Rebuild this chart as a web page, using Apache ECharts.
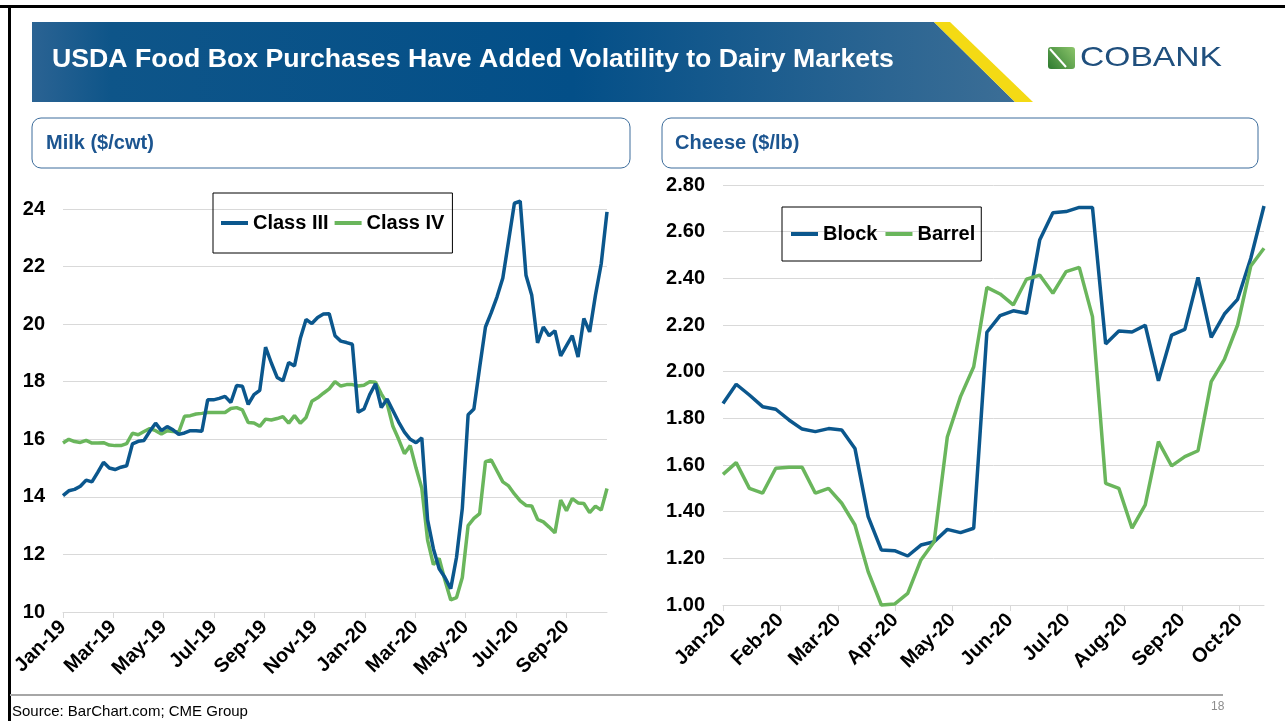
<!DOCTYPE html>
<html>
<head>
<meta charset="utf-8">
<script src="https://cdn.jsdelivr.net/npm/echarts@6/dist/echarts.min.js"></script>
<style>
  html, body { margin: 0; padding: 0; background: #fff; }
  #main { width: 1285px; height: 721px; }
</style>
</head>
<body>
<div id="main"></div>
<script>
// weekly prices
var milkTicks = ['Jan-19', 'Mar-19', 'May-19', 'Jul-19', 'Sep-19', 'Nov-19',
  'Jan-20', 'Mar-20', 'May-20', 'Jul-20', 'Sep-20'];
var classIII = [14.04, 14.21, 14.26, 14.37, 14.58, 14.52, 14.85, 15.2, 15.0, 14.95,
  15.03, 15.08, 15.84, 15.93, 15.96, 16.28, 16.56, 16.30, 16.44, 16.33,
  16.17, 16.22, 16.30, 16.30, 16.28, 17.37, 17.37, 17.42, 17.49, 17.28,
  17.87, 17.84, 17.21, 17.55, 17.70, 19.20, 18.65, 18.15, 18.03, 18.67,
  18.55, 19.50, 20.16, 20.02, 20.23, 20.35, 20.36, 19.60, 19.41, 19.36,
  19.30, 16.94, 17.05, 17.55, 17.93, 17.10, 17.40, 17.0, 16.6, 16.25,
  16.0, 15.88, 16.05, 13.2, 12.2, 11.5, 11.2, 10.81, 11.9, 13.6,
  16.85, 17.05, 18.5, 19.9, 20.4, 20.95, 21.6, 22.9, 24.2, 24.27,
  21.7, 21.0, 19.35, 19.9, 19.6, 19.77, 18.9, 19.25, 19.6, 18.86,
  20.2, 19.73, 21.0, 22.1, 23.9];
var classIV = [15.87, 16.0, 15.92, 15.89, 15.96, 15.87, 15.87, 15.88, 15.80, 15.78,
  15.78, 15.85, 16.21, 16.16, 16.27, 16.37, 16.30, 16.18, 16.30, 16.27,
  16.25, 16.80, 16.82, 16.88, 16.90, 16.93, 16.93, 16.93, 16.93, 17.07,
  17.10, 17.02, 16.58, 16.57, 16.45, 16.70, 16.67, 16.72, 16.79, 16.56,
  16.82, 16.56, 16.76, 17.32, 17.44, 17.60, 17.75, 18.0, 17.85, 17.9,
  17.9, 17.85, 17.88, 18.0, 17.98, 17.58, 17.25, 16.45, 16.0, 15.5,
  15.78, 15.0, 14.3, 12.5, 11.65, 11.86, 11.1, 10.42, 10.5, 11.2,
  13.0, 13.25, 13.42, 15.22, 15.28, 14.9, 14.52, 14.38, 14.1, 13.86,
  13.7, 13.68, 13.22, 13.13, 12.95, 12.75, 13.89, 13.52, 13.94, 13.79,
  13.77, 13.45, 13.68, 13.54, 14.29];

var cheeseTicks = ['Jan-20', 'Feb-20', 'Mar-20', 'Apr-20', 'May-20', 'Jun-20',
  'Jul-20', 'Aug-20', 'Sep-20', 'Oct-20'];
var block = [1.864, 1.946, 1.90, 1.85, 1.839, 1.793, 1.754, 1.743, 1.756, 1.75,
  1.671, 1.379, 1.236, 1.233, 1.21, 1.257, 1.271, 1.324, 1.31, 1.329,
  2.169, 2.24, 2.261, 2.25, 2.564, 2.681, 2.686, 2.704, 2.704, 2.119,
  2.174, 2.17, 2.199, 1.961, 2.157, 2.181, 2.404, 2.147, 2.247, 2.31,
  2.486, 2.71];
var barrel = [1.56, 1.61, 1.50, 1.479, 1.586, 1.59, 1.59, 1.479, 1.50, 1.436,
  1.343, 1.143, 1.0, 1.004, 1.05, 1.193, 1.271, 1.72, 1.893, 2.021,
  2.361, 2.333, 2.286, 2.396, 2.414, 2.336, 2.429, 2.447, 2.236, 1.521,
  1.50, 1.329, 1.429, 1.70, 1.596, 1.636, 1.661, 1.957, 2.053, 2.2,
  2.453, 2.529];

var BLUE = '#0b578d';
var GREEN = '#6ab65c';
var FONT = '"Liberation Sans", Arial, sans-serif';
var WEEK = 7 / 30.4375; // one week measured in months

function weekly(arr) {
  return arr.map(function (v, i) { return [i * WEEK, v]; });
}
function evens(n) { var a = []; for (var i = 0; i < n; i++) a.push(i * 2); return a; }
function steps(n) { var a = []; for (var i = 0; i < n; i++) a.push(i); return a; }

var myChart = echarts.init(document.getElementById('main'));

var axisLbl = { fontFamily: FONT, fontWeight: 'bold', color: '#000' };

var option = {
  animation: false,
  backgroundColor: '#fff',
  textStyle: { fontFamily: FONT },
  grid: [
    { left: 63, top: 209, width: 544, height: 403 },
    { left: 723, top: 185, width: 541, height: 420 }
  ],
  legend: [
    {
      left: 213, top: 193,
      data: ['Class III', 'Class IV'],
      icon: 'rect', itemWidth: 27, itemHeight: 4, itemGap: 6,
      borderColor: '#000', borderWidth: 1, padding: [20, 8, 20, 8],
      textStyle: { fontFamily: FONT, fontWeight: 'bold', fontSize: 20, color: '#000' }
    },
    {
      left: 782, top: 207,
      data: ['Block', 'Barrel'],
      icon: 'rect', itemWidth: 27, itemHeight: 4, itemGap: 8,
      borderColor: '#000', borderWidth: 1, padding: [17, 6, 17, 9],
      textStyle: { fontFamily: FONT, fontWeight: 'bold', fontSize: 20, color: '#000' }
    }
  ],
  xAxis: [
    {
      gridIndex: 0, type: 'value', min: 0, max: (classIII.length - 1) * WEEK,
      axisLine: { lineStyle: { color: '#d9d9d9', width: 1 } },
      axisTick: { show: true, length: 6, lineStyle: { color: '#d9d9d9' }, customValues: evens(milkTicks.length) },
      splitLine: { show: false },
      axisLabel: Object.assign({}, axisLbl, {
        fontSize: 20, rotate: 45, margin: 12,
        customValues: evens(milkTicks.length),
        formatter: function (v) { return milkTicks[Math.round(v / 2)]; }
      })
    },
    {
      gridIndex: 1, type: 'value', min: 0, max: (block.length - 1) * WEEK,
      axisLine: { lineStyle: { color: '#d9d9d9', width: 1 } },
      axisTick: { show: true, length: 6, lineStyle: { color: '#d9d9d9' }, customValues: steps(cheeseTicks.length) },
      splitLine: { show: false },
      axisLabel: Object.assign({}, axisLbl, {
        fontSize: 20, rotate: 45, margin: 12,
        customValues: steps(cheeseTicks.length),
        formatter: function (v) { return cheeseTicks[Math.round(v)]; }
      })
    }
  ],
  yAxis: [
    {
      gridIndex: 0, type: 'value', min: 10, max: 24, interval: 2,
      axisLine: { show: false }, axisTick: { show: false },
      splitLine: { lineStyle: { color: '#d9d9d9', width: 1 } },
      axisLabel: Object.assign({}, axisLbl, { fontSize: 20, margin: 18 })
    },
    {
      gridIndex: 1, type: 'value', min: 1, max: 2.8, interval: 0.2,
      axisLine: { show: false }, axisTick: { show: false },
      splitLine: { lineStyle: { color: '#d9d9d9', width: 1 } },
      axisLabel: Object.assign({}, axisLbl, {
        fontSize: 20, margin: 18,
        formatter: function (v) { return v.toFixed(2); }
      })
    }
  ],
  series: [
    { name: 'Class III', type: 'line', xAxisIndex: 0, yAxisIndex: 0, data: weekly(classIII),
      symbol: 'none', clip: false, color: BLUE, lineStyle: { width: 3.5, color: BLUE } },
    { name: 'Class IV', type: 'line', xAxisIndex: 0, yAxisIndex: 0, data: weekly(classIV),
      symbol: 'none', clip: false, color: GREEN, lineStyle: { width: 3.5, color: GREEN }, z: 1 },
    { name: 'Block', type: 'line', xAxisIndex: 1, yAxisIndex: 1, data: weekly(block),
      symbol: 'none', clip: false, color: BLUE, lineStyle: { width: 3.5, color: BLUE } },
    { name: 'Barrel', type: 'line', xAxisIndex: 1, yAxisIndex: 1, data: weekly(barrel),
      symbol: 'none', clip: false, color: GREEN, lineStyle: { width: 3.5, color: GREEN } }
  ],
  graphic: [
    // slide frame
    { type: 'rect', shape: { x: 0, y: 5, width: 1285, height: 3 }, style: { fill: '#000' } },
    { type: 'rect', shape: { x: 8, y: 5, width: 3, height: 716 }, style: { fill: '#000' } },
    // title banner
    { type: 'polygon', shape: { points: [[32, 22], [934, 22], [1015, 102], [32, 102]] },
      style: { fill: new echarts.graphic.LinearGradient(0, 0, 1, 0, [
        { offset: 0, color: '#2b6393' }, { offset: 0.08, color: '#0e5589' },
        { offset: 0.55, color: '#034f88' }, { offset: 1, color: '#3c6e96' }]) } },
    { type: 'polygon', shape: { points: [[934, 22], [950, 22], [1033, 102], [1015, 102]] },
      style: { fill: '#f4da14' } },
    { type: 'text', left: 52, top: 46,
      style: { text: 'USDA Food Box Purchases Have Added Volatility to Dairy Markets',
        fill: '#fff', font: 'bold 26.7px ' + FONT } },
    // logo
    { type: 'rect', shape: { x: 1048, y: 47, width: 27, height: 22, r: 3 },
      style: { fill: new echarts.graphic.LinearGradient(0, 1, 1, 0, [
        { offset: 0, color: '#2d7a2f' }, { offset: 1, color: '#8cc56b' }]) } },
    { type: 'line', shape: { x1: 1050, y1: 49, x2: 1066, y2: 67 }, style: { stroke: '#fff', lineWidth: 2 } },
    { type: 'text', x: 1080, y: 44, scaleX: 1.2,
      style: { text: 'COBANK', fill: '#1f4f7d', font: '28px ' + FONT } },
    // panel headers
    { type: 'rect', shape: { x: 32, y: 118, width: 598, height: 50, r: 9 },
      style: { fill: '#fff', stroke: '#3d6d9c', lineWidth: 1 } },
    { type: 'text', left: 46, top: 133,
      style: { text: 'Milk ($/cwt)', fill: '#1c5590', font: 'bold 20px ' + FONT } },
    { type: 'rect', shape: { x: 662, y: 118, width: 596, height: 50, r: 9 },
      style: { fill: '#fff', stroke: '#3d6d9c', lineWidth: 1 } },
    { type: 'text', left: 675, top: 133,
      style: { text: 'Cheese ($/lb)', fill: '#1c5590', font: 'bold 20px ' + FONT } },
    // footer
    { type: 'rect', shape: { x: 10, y: 694, width: 1213, height: 2 }, style: { fill: '#a6a6a6' } },
    { type: 'text', left: 12, top: 704,
      style: { text: 'Source: BarChart.com; CME Group', fill: '#000', font: '15px ' + FONT } },
    { type: 'text', left: 1211, top: 701,
      style: { text: '18', fill: '#8c8c8c', font: '12px ' + FONT } }
  ]
};

myChart.setOption(option);
</script>
</body>
</html>
